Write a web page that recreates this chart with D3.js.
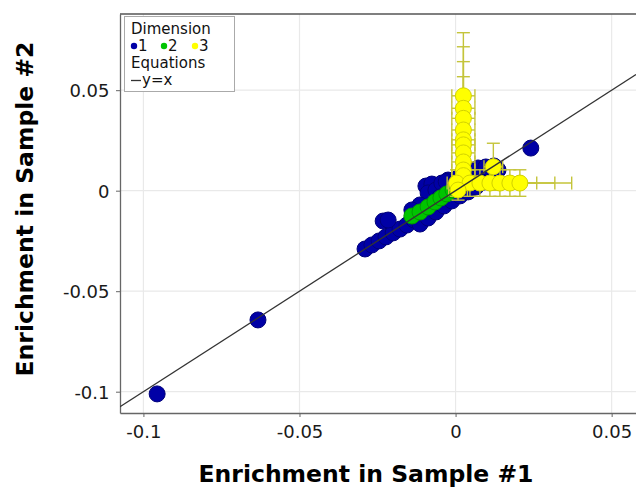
<!DOCTYPE html>
<html>
<head>
<meta charset="utf-8">
<script src="https://cdn.jsdelivr.net/npm/d3@7"></script>
<style>
  html, body { margin: 0; padding: 0; background: #fff; }
  svg { display: block; font-family: "DejaVu Sans", sans-serif; }
</style>
</head>
<body>
<svg id="chart" width="636" height="488"></svg>
<script>
// ---- data ----
const xTickValues = [-0.1, -0.05, 0, 0.05];
const xTickLabels = ["-0.1", "-0.05", "0", "0.05"];
const yTickValues = [0.05, 0, -0.05, -0.1];
const yTickLabels = ["0.05", "0", "-0.05", "-0.1"];

const dim1X = [-0.0956, -0.0633, 0.0241, -0.0290, -0.0268, -0.0245, -0.0223, -0.0200, -0.0178,
  -0.0232, -0.0216, -0.0156, -0.0133, -0.0114, -0.0088, -0.0063, -0.0037, -0.0012, 0.0014,
  0.0040, 0.0065, 0.0091, 0.0117, 0.0136, -0.0095, -0.0076, -0.0088, -0.0063, -0.0044,
  -0.0024, -0.0050, -0.0114, -0.0140, 0.0046, 0.0072, 0.0097, 0.0123, -0.0030, 0.0005];
const dim1Y = [-0.1011, -0.0643, 0.0212, -0.0290, -0.0270, -0.0250, -0.0230, -0.0210, -0.0191,
  -0.0151, -0.0146, -0.0171, -0.0146, -0.0166, -0.0136, -0.0106, -0.0076, -0.0051, -0.0026,
  -0.0006, 0.0018, 0.0043, 0.0073, 0.0103, 0.0023, 0.0033, -0.0011, 0.0003, 0.0038,
  0.0053, -0.0031, -0.0071, -0.0096, 0.0103, 0.0113, 0.0118, 0.0123, 0.0045, 0.0060];

const dim2X = [-0.0140, -0.0114, -0.0088, -0.0066, -0.0047, -0.0028, -0.0008, 0.0011, 0.0033];
const dim2Y = [-0.0126, -0.0106, -0.0081, -0.0056, -0.0036, -0.0016, 0.0003, 0.0023, 0.0043];

const dim3X = [0.0025, 0.0025, 0.0025, 0.0025, 0.0025, 0.0025, 0.0025, 0.0025, 0.0025, 0.0025,
  0.0003, 0.0046, 0.0078, 0.0110, 0.0142, 0.0174, 0.0206, 0.0121, 0.0008];
const dim3Y = [0.0472, 0.0410, 0.0360, 0.0302, 0.0253, 0.0228, 0.0188, 0.0143, 0.0103, 0.0075,
  0.0038, 0.0038, 0.0038, 0.0038, 0.0038, 0.0038, 0.0038, 0.0119, 0.0003];
const dim3XErr = [0.0037, 0.0037, 0.0037, 0.0037, 0.0037, 0.0037, 0.0037, 0.0037, 0.0037, 0.0037,
  0.0030, 0.0040, 0.0060, 0.0080, 0.0118, 0.0144, 0.0166, 0.0030, 0.0030];
const dim3YErr = [0.0314, 0.0306, 0.0282, 0.0265, 0.0120, 0.0100, 0.0120, 0.0100, 0.0080, 0.0070,
  0.0066, 0.0066, 0.0066, 0.0066, 0.0066, 0.0066, 0.0066, 0.0117, 0.0050];

const legendLabels = ["1", "2", "3"];
const equationLabel = "y=x";

// ---- styles ----
const colBlue = "#0000a6", strokeBlue = "#00007a";
const colGreen = "#00c400", strokeGreen = "#009a00";
const colYellow = "#ffff00", strokeYellow = "#d2d200";
const errColor = "#c4c43a";
const R = 8;

const svg = d3.select("#chart");
const pLeft = 120, pRight = 636, pTop = 14, pBottom = 413;

const x = d3.scaleLinear().domain([-0.1075, 0.0578]).range([pLeft, pRight]);
const y = d3.scaleLinear().domain([-0.1106, 0.0879]).range([pBottom, pTop]);

// gridlines
const grid = svg.append("g");
grid.selectAll("line.gx").data(xTickValues).join("line")
  .attr("x1", d => x(d)).attr("x2", d => x(d)).attr("y1", pTop).attr("y2", pBottom)
  .attr("stroke", "#e9e9e9").attr("stroke-width", 1.2);
grid.selectAll("line.gy").data(yTickValues).join("line")
  .attr("y1", d => y(d)).attr("y2", d => y(d)).attr("x1", pLeft).attr("x2", pRight)
  .attr("stroke", "#e9e9e9").attr("stroke-width", 1.2);

// axes
const xAxis = d3.axisBottom(x).tickValues(xTickValues)
  .tickFormat((d, i) => xTickLabels[i]).tickSize(4).tickSizeOuter(0);
const yAxis = d3.axisLeft(y).tickValues(yTickValues)
  .tickFormat((d, i) => yTickLabels[i]).tickSize(4).tickSizeOuter(0);

const gx = svg.append("g").attr("transform", `translate(0,${pBottom})`).call(xAxis);
gx.select(".domain").attr("stroke", "#666").attr("stroke-width", 1.3);
gx.selectAll(".tick line").attr("stroke", "#666");
gx.selectAll(".tick text").attr("font-size", 18).attr("font-family", "DejaVu Sans")
  .attr("fill", "#1a1a1a").attr("dy", null).attr("y", 24.5);

const gy = svg.append("g").attr("transform", `translate(${pLeft},0)`).call(yAxis);
gy.select(".domain").attr("stroke", "#666").attr("stroke-width", 1.3);
gy.selectAll(".tick line").attr("stroke", "#666");
gy.selectAll(".tick text").attr("font-size", 18).attr("font-family", "DejaVu Sans")
  .attr("fill", "#1a1a1a").attr("x", -10.5).attr("dy", "0.36em");

// top border
svg.append("line").attr("x1", pLeft).attr("x2", pRight).attr("y1", pTop).attr("y2", pTop)
  .attr("stroke", "#555").attr("stroke-width", 1.3);

// clip
svg.append("clipPath").attr("id", "plotclip").append("rect")
  .attr("x", pLeft).attr("y", pTop).attr("width", pRight - pLeft).attr("height", pBottom - pTop);
const plot = svg.append("g").attr("clip-path", "url(#plotclip)");

// dimension 1
plot.append("g").selectAll("circle").data(dim1X).join("circle")
  .attr("cx", d => x(d)).attr("cy", (d, i) => y(dim1Y[i])).attr("r", R)
  .attr("fill", colBlue).attr("stroke", strokeBlue).attr("stroke-width", 1);

// dimension 2
plot.append("g").selectAll("circle").data(dim2X).join("circle")
  .attr("cx", d => x(d)).attr("cy", (d, i) => y(dim2Y[i])).attr("r", R)
  .attr("fill", colGreen).attr("stroke", strokeGreen).attr("stroke-width", 1);

// dimension 3 error bars
const cap = 6.5;
const eb = plot.append("g").attr("stroke", errColor).attr("stroke-width", 1.4).attr("fill", "none");
dim3X.forEach((xv, i) => {
  const yv = dim3Y[i], ex = dim3XErr[i], ey = dim3YErr[i];
  const cx = x(xv), cy = y(yv);
  const x0 = x(xv - ex), x1 = x(xv + ex), y0 = y(yv - ey), y1 = y(yv + ey);
  eb.append("line").attr("x1", x0).attr("x2", x1).attr("y1", cy).attr("y2", cy);
  eb.append("line").attr("x1", x0).attr("x2", x0).attr("y1", cy - cap).attr("y2", cy + cap);
  eb.append("line").attr("x1", x1).attr("x2", x1).attr("y1", cy - cap).attr("y2", cy + cap);
  eb.append("line").attr("x1", cx).attr("x2", cx).attr("y1", y0).attr("y2", y1);
  eb.append("line").attr("x1", cx - cap).attr("x2", cx + cap).attr("y1", y0).attr("y2", y0);
  eb.append("line").attr("x1", cx - cap).attr("x2", cx + cap).attr("y1", y1).attr("y2", y1);
});

// dimension 3 points
plot.append("g").selectAll("circle").data(dim3X).join("circle")
  .attr("cx", d => x(d)).attr("cy", (d, i) => y(dim3Y[i])).attr("r", R)
  .attr("fill", colYellow).attr("stroke", strokeYellow).attr("stroke-width", 1);

// y = x line
const dom = x.domain();
plot.append("line")
  .attr("x1", x(dom[0])).attr("y1", y(dom[0]))
  .attr("x2", x(dom[1])).attr("y2", y(dom[1]))
  .attr("stroke", "#333").attr("stroke-width", 1.3);

// axis titles
svg.append("text").attr("x", 366).attr("y", 482).attr("text-anchor", "middle")
  .attr("font-size", 23.5).attr("font-weight", "bold").attr("fill", "#000")
  .text("Enrichment in Sample #1");
svg.append("text").attr("transform", "translate(33,209) rotate(-90)").attr("text-anchor", "middle")
  .attr("font-size", 23.5).attr("font-weight", "bold").attr("fill", "#000")
  .text("Enrichment in Sample #2");

// legend
const lg = svg.append("g");
lg.append("rect").attr("x", 124.5).attr("y", 16.5).attr("width", 110).attr("height", 75)
  .attr("fill", "#fff").attr("stroke", "#aaa").attr("stroke-width", 1);
lg.append("text").attr("x", 131).attr("y", 34).attr("font-size", 15).attr("fill", "#111").text("Dimension");
const legCols = [colBlue, colGreen, colYellow];
const legX = [134, 164, 195];
legendLabels.forEach((lab, i) => {
  lg.append("circle").attr("cx", legX[i]).attr("cy", 46).attr("r", 3.2).attr("fill", legCols[i]);
  lg.append("text").attr("x", legX[i] + 4).attr("y", 51).attr("font-size", 15).attr("fill", "#111").text(lab);
});
lg.append("text").attr("x", 131).attr("y", 68).attr("font-size", 15).attr("fill", "#111").text("Equations");
lg.append("line").attr("x1", 131).attr("x2", 141).attr("y1", 80.5).attr("y2", 80.5)
  .attr("stroke", "#333").attr("stroke-width", 1.3);
lg.append("text").attr("x", 142).attr("y", 85).attr("font-size", 15).attr("fill", "#111").text(equationLabel);
</script>
</body>
</html>
